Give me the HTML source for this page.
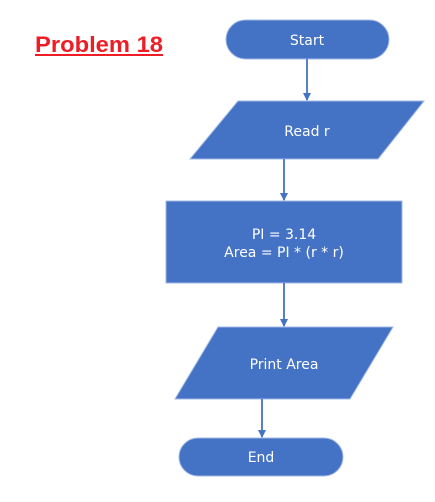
<!DOCTYPE html>
<html><head><meta charset="utf-8"><style>
html,body{margin:0;padding:0;background:#fff;}
svg{display:block}
text{font-family:"Comic Sans MS","DejaVu Sans","Liberation Sans",sans-serif;fill:#fff;font-size:14px;text-anchor:middle}
</style></head><body>
<svg width="435" height="502" viewBox="0 0 435 502" xmlns="http://www.w3.org/2000/svg">
<defs>
<marker id="a" markerWidth="10" markerHeight="10" refX="7" refY="4" orient="auto" markerUnits="userSpaceOnUse">
<path d="M0,0 L8,4 L0,8 Z" fill="#4472c4"/></marker>
</defs>
<text x="35" y="52" textLength="128" lengthAdjust="spacingAndGlyphs" style="font-family:'Liberation Sans',sans-serif;font-weight:bold;font-size:22px;fill:#ee1c24;text-anchor:start">Problem 18</text>
<rect x="35" y="54" width="128" height="2" fill="#ee1c24"/>
<g fill="#4472c4" stroke="#9fb8e6" stroke-width="1">
<rect x="226" y="20" width="163" height="39" rx="19.5"/>
<polygon points="238,101 424,101 378,159 190,159"/>
<rect x="166" y="201" width="236" height="82"/>
<polygon points="218,327 393,327 350,399 175,399"/>
<rect x="179" y="438" width="164" height="38" rx="19"/>
</g>
<g stroke="#4472c4" stroke-width="1.8" fill="none">
<line x1="307" y1="59" x2="307" y2="100" marker-end="url(#a)"/>
<line x1="284" y1="159" x2="284" y2="200" marker-end="url(#a)"/>
<line x1="284" y1="283" x2="284" y2="326" marker-end="url(#a)"/>
<line x1="262" y1="399" x2="262" y2="437" marker-end="url(#a)"/>
</g>
<text x="307" y="45">Start</text>
<text x="307" y="136">Read r</text>
<text x="284" y="239">PI = 3.14</text>
<text x="284" y="257">Area =  PI * (r * r)</text>
<text x="284" y="369">Print Area</text>
<text x="261" y="462">End</text>
</svg>
</body></html>
